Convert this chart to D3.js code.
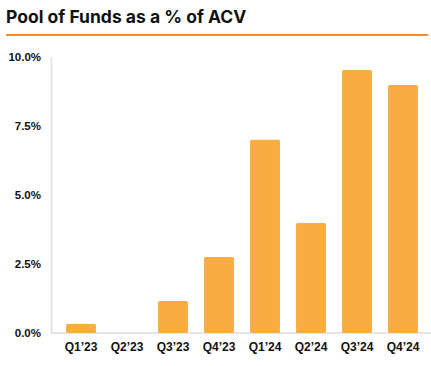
<!DOCTYPE html>
<meta charset="utf-8">
<style>
body { margin: 0; background: #fff; font-family: Inter, "Noto Sans", sans-serif; }
.tick text { font-weight: 700; fill: #111; }
</style>
<body>
<script src="https://cdn.jsdelivr.net/npm/d3@7"></script>
<script>
// chart data
var quarters = ["Q1\u201923", "Q2\u201923", "Q3\u201923", "Q4\u201923", "Q1\u201924", "Q2\u201924", "Q3\u201924", "Q4\u201924"];
var pool = [0.33, 0, 1.16, 2.75, 7.0, 3.99, 9.53, 8.99];
var yTicks = [0, 2.5, 5, 7.5, 10];

var W = 431, H = 366;
var svg = d3.select("body").append("svg")
    .attr("width", W)
    .attr("height", H);

// title + orange rule
svg.append("text")
    .attr("x", 6)
    .attr("y", 23)
    .style("font-size", "17.5px")
    .style("font-weight", 700)
    .attr("fill", "#111")
    .text("Pool of Funds as a % of ACV");

svg.append("line")
    .attr("x1", 6).attr("x2", 428)
    .attr("y1", 35).attr("y2", 35)
    .attr("stroke", "#F58A2C")
    .attr("stroke-width", 2);

// scales
var x = d3.scaleBand().domain(quarters).range([58, 426]).paddingInner(0.35).paddingOuter(0.175);
var y = d3.scaleLinear().domain([0, 10]).range([333, 57]);

// y axis
svg.append("g")
    .attr("transform", "translate(51,0)")
    .call(d3.axisLeft(y).tickValues(yTicks).tickSize(0).tickPadding(10)
        .tickFormat(function(d) { return d3.format(".1f")(d) + "%"; }))
    .call(function(g) { g.select(".domain").attr("stroke", "#ddd").attr("stroke-width", 1.5); })
    .selectAll("text").style("font-size", "11.5px");

// x axis baseline
svg.append("line")
    .attr("x1", 51).attr("x2", 431)
    .attr("y1", y(0)).attr("y2", y(0))
    .attr("stroke", "#ddd")
    .attr("stroke-width", 1.5);

// bars
svg.selectAll("rect.bar")
    .data(pool)
  .enter().append("rect")
    .attr("class", "bar")
    .attr("x", function(d, i) { return x(quarters[i]); })
    .attr("width", x.bandwidth())
    .attr("y", function(d) { return y(d); })
    .attr("height", function(d) { return y(0) - y(d); })
    .attr("rx", 1.5)
    .attr("fill", "#F8AC42");

// x labels
svg.append("g")
    .attr("transform", "translate(0," + y(0) + ")")
    .call(d3.axisBottom(x).tickSize(0).tickPadding(9))
    .call(function(g) { g.select(".domain").remove(); })
    .selectAll("text").style("font-size", "12px");
</script>
</body>
